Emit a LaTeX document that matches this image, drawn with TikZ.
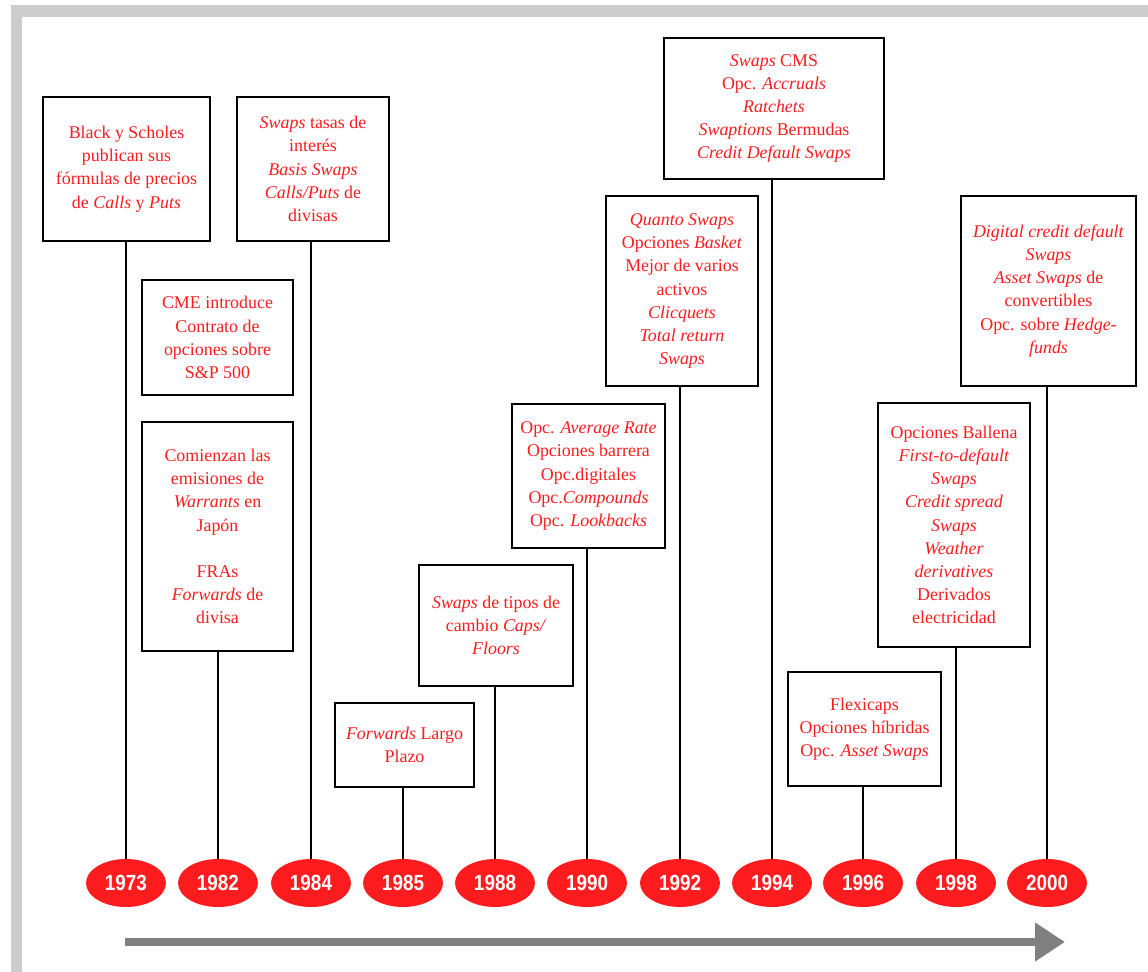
\documentclass[tikz,border=0pt]{standalone}
\usepackage{fontspec}
\setmainfont{Liberation Serif}
\newfontfamily\anyofont[FakeStretch=0.86]{Liberation Sans}
\usetikzlibrary{shapes.geometric,arrows.meta}

\definecolor{rojo}{RGB}{255,28,30}
\definecolor{gris}{RGB}{204,204,204}
\definecolor{flecha}{RGB}{128,128,128}

\tikzset{
  caja/.style={draw,line width=1.1pt,align=center,inner sep=0pt,
    text=rojo,font=\fontsize{10.2}{13.2}\selectfont},
  anyo/.style={ellipse,fill=rojo,inner sep=0pt,minimum width=1.6cm,
    minimum height=0.96cm,text=white,font=\anyofont\bfseries\fontsize{12.5}{13}\selectfont},
  poste/.style={line width=0.85pt}
}

\begin{document}
\begin{tikzpicture}[x=0.02cm,y=-0.02cm]

\useasboundingbox (0,0) rectangle (1148,972);

% marco
\fill[gris] (11,5) rectangle (1148,17);
\fill[gris] (11,5) rectangle (22,972);

% years
\foreach \a/\x in {1973/126,1982/218,1984/311,1985/403,1988/495,1990/587,
                   1992/680,1994/772,1996/863,1998/956,2000/1047}
  \node[anyo] (a\a) at (\x,883) {\a};

% boxes
\node[caja,minimum width=3.34cm,minimum height=2.88cm] (b73) at (126.5,169)
  {Black y Scholes\\ publican sus\\ fórmulas de precios\\ de \emph{Calls} y \emph{Puts}};
\node[caja,minimum width=3.04cm,minimum height=2.88cm] (b84) at (313,169)
  {\emph{Swaps} tasas de\\ interés\\ \emph{Basis Swaps}\\ \emph{Calls/Puts} de\\ divisas};
\node[caja,minimum width=3.02cm,minimum height=2.30cm] (b82a) at (217.5,337.5)
  {CME introduce\\ Contrato de\\ opciones sobre\\ S\&P 500};
\node[caja,minimum width=3.02cm,minimum height=4.58cm] (b82) at (217.5,536.5)
  {Comienzan las\\ emisiones de\\ \emph{Warrants} en\\ Japón\\[13.2pt] FRAs\\ \emph{Forwards} de\\ divisa};
\node[caja,minimum width=2.78cm,minimum height=1.68cm] (b85) at (404.5,745)
  {\emph{Forwards} Largo\\ Plazo};
\node[caja,minimum width=3.08cm,minimum height=2.42cm] (b88) at (496,625.5)
  {\emph{Swaps} de tipos de\\ cambio \emph{Caps/}\\ \emph{Floors}};
\node[caja,minimum width=3.06cm,minimum height=2.88cm] (b90) at (588.5,476)
  {Opc. \emph{Average Rate}\\ Opciones barrera\\ Opc.digitales\\ Opc.\emph{Compounds}\\ Opc. \emph{Lookbacks}};
\node[caja,minimum width=3.04cm,minimum height=3.80cm] (b92) at (682,291)
  {\emph{Quanto Swaps}\\ Opciones \emph{Basket}\\ Mejor de varios\\ activos\\ \emph{Clicquets}\\ \emph{Total return}\\ \emph{Swaps}};
\node[caja,minimum width=4.40cm,minimum height=2.82cm] (b94) at (774,108.5)
  {\emph{Swaps} CMS\\ Opc. \emph{Accruals}\\ \emph{Ratchets}\\ \emph{Swaptions} Bermudas\\ \emph{Credit Default Swaps}};
\node[caja,minimum width=3.06cm,minimum height=2.28cm] (b96) at (864.5,729)
  {Flexicaps\\ Opciones híbridas\\ Opc. \emph{Asset Swaps}};
\node[caja,minimum width=3.04cm,minimum height=4.88cm] (b98) at (954,525)
  {Opciones Ballena\\ \emph{First-to-default}\\ \emph{Swaps}\\ \emph{Credit spread}\\ \emph{Swaps}\\ \emph{Weather}\\ \emph{derivatives}\\ Derivados\\ electricidad};
\node[caja,minimum width=3.50cm,minimum height=3.80cm] (b00) at (1048.5,291)
  {\emph{Digital credit default}\\ \emph{Swaps}\\ \emph{Asset Swaps} de\\ convertibles\\ Opc. sobre \emph{Hedge-}\\ \emph{funds}};

% posts
\foreach \b/\a in {73/1973,82/1982,84/1984,85/1985,88/1988,90/1990,
                   92/1992,94/1994,96/1996,98/1998,00/2000}
  \draw[poste] (a\a |- b\b.south) -- (a\a.north);

% time arrow
\coordinate (ini) at (125,942);
\coordinate (fin) at (1065,942);
\draw[flecha,line width=0.16cm,-{Triangle[length=0.6cm,width=0.74cm]}] (ini) -- (fin);

\end{tikzpicture}
\end{document}
